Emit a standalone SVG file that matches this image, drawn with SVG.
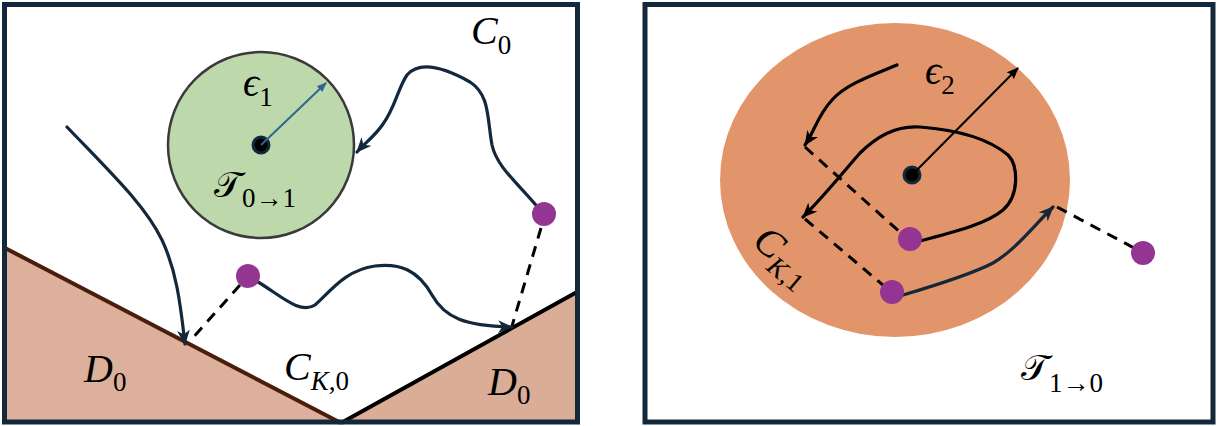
<svg xmlns="http://www.w3.org/2000/svg" width="1217" height="426" viewBox="0 0 1217 426">
<style>
.frame{fill:none;stroke:#13283a;stroke-width:5}
.curve{fill:none;stroke:#13283a;stroke-width:3.2;stroke-linecap:round}
.kcurve{fill:none;stroke:#000;stroke-width:3.2;stroke-linecap:round}
.dash{fill:none;stroke:#000;stroke-width:3;stroke-dasharray:11 8}
.dot{fill:#943592}
.m{font-family:"Liberation Serif","DejaVu Serif",serif;font-style:italic;font-size:40px;fill:#000}
.s{font-style:normal;font-size:27px}
.si{font-style:italic;font-size:27px}
.scr{font-family:"DejaVu Serif","DejaVu Sans","Noto Sans",serif;font-style:normal;font-size:36px}
</style>
<defs>
<marker id="ah" viewBox="0 0 14 12" refX="13" refY="6" markerWidth="15" markerHeight="13" markerUnits="userSpaceOnUse" orient="auto">
<path d="M0,0 L14,6 L0,12 L4,6 z" fill="#13283a"/>
</marker>
<marker id="ahk" viewBox="0 0 14 12" refX="13" refY="6" markerWidth="15" markerHeight="13" markerUnits="userSpaceOnUse" orient="auto">
<path d="M0,0 L14,6 L0,12 L4,6 z" fill="#000"/>
</marker>
<marker id="ahb" viewBox="0 0 10 10" refX="9" refY="5" markerWidth="10" markerHeight="10" markerUnits="userSpaceOnUse" orient="auto">
<path d="M0,1 L10,5 L0,9 z" fill="#2f6690"/>
</marker>
<marker id="aht" viewBox="0 0 12 10" refX="11" refY="5" markerWidth="12" markerHeight="10" markerUnits="userSpaceOnUse" orient="auto">
<path d="M0,0 L12,5 L0,10 L2,5 z" fill="#000"/>
</marker>
</defs>

<g id="panel-left">
<rect x="4.5" y="4.5" width="573" height="417.5" fill="#fff"/>
<polygon id="D0-left" points="5,248 340,422 5,422" fill="#dcb09b"/>
<polygon id="D0-right" points="342,422 577,292 577,422" fill="#d9ad96"/>
<line x1="5" y1="248" x2="341" y2="423" stroke="#4a1e0c" stroke-width="4"/>
<line x1="341" y1="423" x2="577" y2="292" stroke="#000" stroke-width="4"/>
<rect class="frame" x="4.5" y="4.5" width="573" height="417.5"/>
</g>

<g id="set-T01">
<circle cx="261" cy="145" r="93" fill="#bdd9ac" stroke="#3a3a3a" stroke-width="2.5"/>
<circle cx="261" cy="145" r="8" fill="#000" stroke="#13283a" stroke-width="3"/>
</g>

<g id="panel-right">
<rect class="frame" x="645" y="4.5" width="568" height="417.5"/>
</g>

<g id="set-T10">
<ellipse cx="895" cy="180" rx="175" ry="157" fill="#e2956b"/>
<circle cx="912" cy="175" r="8" fill="#000" stroke="#13283a" stroke-width="3"/>
</g>

<g id="connectors">
<line x1="261" y1="145" x2="326" y2="83" stroke="#2f6690" stroke-width="2" marker-end="url(#ahb)"/>
<path class="curve" d="M67,127 C110,172 145,205 162,240 C176,270 180,300 185,344" marker-end="url(#ah)"/>
<path class="curve" d="M540,210 C520,185 497,168 492,145 C487,118 490,95 470,82 C445,68 420,60 407,75 C398,88 395,108 383,124 C375,136 365,143 357,152" marker-end="url(#ah)"/>
<path class="curve" d="M258,282 C280,295 300,315 315,305 C330,292 345,270 375,266 C400,263 418,270 432,295 C445,318 465,326 512,327" marker-end="url(#ah)"/>
<line class="dash" x1="240" y1="285" x2="190" y2="341"/>
<line class="dash" x1="541" y1="228" x2="512" y2="326"/>

<line x1="912" y1="175" x2="1018" y2="68" stroke="#000" stroke-width="2" marker-end="url(#aht)"/>
<path class="kcurve" d="M897,65 C870,76 845,85 832,100 C818,115 815,130 805,145" marker-end="url(#ahk)"/>
<line class="dash" x1="805" y1="147" x2="902" y2="234"/>
<path class="kcurve" d="M920,241 C950,233 985,225 1003,210 C1020,195 1018,165 1008,155 C990,140 960,130 920,127 C895,125 875,138 860,153 C845,170 825,195 803,217" marker-end="url(#ahk)"/>
<line class="dash" x1="805" y1="219" x2="884" y2="286"/>
<path class="curve" d="M903,295 C930,287 970,275 993,263 C1015,250 1030,230 1053,207" marker-end="url(#ah)"/>
<line class="dash" x1="1057" y1="207" x2="1136" y2="249"/>
</g>

<g id="points">
<circle class="dot" cx="248" cy="276" r="12"/>
<circle class="dot" cx="544" cy="214" r="12"/>
<circle class="dot" cx="910" cy="239" r="12"/>
<circle class="dot" cx="892" cy="292" r="12"/>
<circle class="dot" cx="1143" cy="253" r="12"/>
</g>

<g id="labels">
<text class="m" x="471" y="44">C<tspan class="s" dy="10">0</tspan></text>
<text class="m" x="243" y="96">ϵ<tspan class="s" dy="10">1</tspan></text>
<text class="m" x="214" y="197"><tspan class="scr">𝒯</tspan><tspan class="s" dy="10">0→1</tspan></text>
<text class="m" x="84" y="382">D<tspan class="s" dy="9">0</tspan></text>
<text class="m" x="488" y="395">D<tspan class="s" dy="9">0</tspan></text>
<text class="m" x="284" y="380">C<tspan class="si" dy="10">K</tspan><tspan class="s">,0</tspan></text>
<text class="m" x="925" y="84">ϵ<tspan class="s" dy="10">2</tspan></text>
<text class="m" x="1021" y="380"><tspan class="scr">𝒯</tspan><tspan class="s" dy="12">1→0</tspan></text>
<text class="m" transform="translate(751,244) rotate(40)">C<tspan class="si" dy="10">K</tspan><tspan class="s">,1</tspan></text>
</g>
</svg>
